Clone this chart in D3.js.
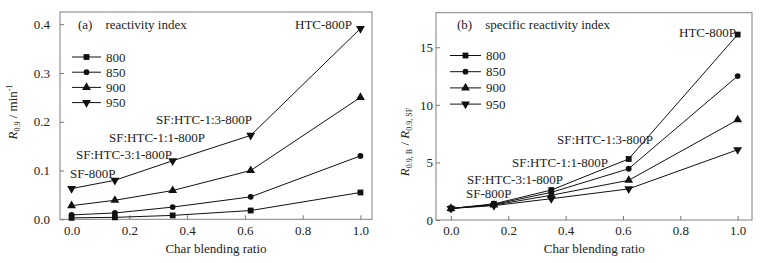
<!DOCTYPE html>
<html>
<head>
<meta charset="utf-8">
<script src="https://cdn.jsdelivr.net/npm/d3@7"></script>
<style>
    body { margin: 0; background: #fff; }
    .tick line { stroke: #777; }
</style>
</head>
<body>
<svg id="chart" width="778" height="263"></svg>
<script>
// Char blending ratio (x) shared by both panels
var ratios = [0, 0.15, 0.35, 0.62, 1.0];
var temps = ['800', '850', '900', '950'];

// (a) reactivity index R0.9 / min-1
var react800 = [0.003, 0.004, 0.008, 0.018, 0.055];
var react850 = [0.009, 0.013, 0.025, 0.046, 0.130];
var react900 = [0.028, 0.039, 0.059, 0.100, 0.250];
var react950 = [0.063, 0.080, 0.120, 0.172, 0.391];

// (b) specific reactivity index R0.9,B / R0.9,SF
var spec800 = [1.0, 1.40, 2.60, 5.30, 16.1];
var spec850 = [1.0, 1.35, 2.40, 4.45, 12.5];
var spec900 = [1.0, 1.30, 2.15, 3.45, 8.7];
var spec950 = [1.0, 1.25, 1.85, 2.70, 6.1];

var sampleNames = ['SF-800P', 'SF:HTC-3:1-800P', 'SF:HTC-1:1-800P', 'SF:HTC-1:3-800P', 'HTC-800P'];
var xTicks = [0, 0.2, 0.4, 0.6, 0.8, 1.0];
var yTicksA = [0, 0.1, 0.2, 0.3, 0.4];
var yTicksB = [0, 5, 10, 15];

var FONT = '"Liberation Serif", "Times New Roman", serif';
var svg = d3.select('#chart');
var symbols = [d3.symbolSquare, d3.symbolCircle, d3.symbolTriangle, 'down'];
var symSizes = [34, 26, 34, 34];

function label(sel) {
    return sel.style('font-family', FONT).style('font-size', '13px').style('fill', '#222');
}

function drawMarker(g, i, cx, cy) {
    var s = symbols[i];
    var p = g.append('path')
        .attr('d', d3.symbol().type(s === 'down' ? d3.symbolTriangle : s).size(symSizes[i])())
        .attr('fill', '#111');
    if (s === 'down') {
        p.attr('transform', 'translate(' + cx + ',' + cy + ') rotate(180)');
    } else {
        p.attr('transform', 'translate(' + cx + ',' + cy + ')');
    }
}

function drawPanel(opt) {
    var x = d3.scaleLinear().domain(opt.xDomain).range([opt.left, opt.right]);
    var y = d3.scaleLinear().domain(opt.yDomain).range([opt.bottom, opt.top]);
    var g = svg.append('g');

    // frame
    g.append('rect')
        .attr('x', opt.left).attr('y', opt.top)
        .attr('width', opt.right - opt.left).attr('height', opt.bottom - opt.top)
        .attr('fill', 'none').attr('stroke', '#808080').attr('stroke-width', 1);

    var xAxis = d3.axisBottom(x).tickValues(xTicks).tickFormat(d3.format('.1f'))
        .tickSizeInner(-4).tickSizeOuter(0).tickPadding(6);
    g.append('g')
        .attr('transform', 'translate(0,' + opt.bottom + ')')
        .call(xAxis)
        .call(a => a.select('.domain').remove())
        .selectAll('text').call(label);

    var yAxis = d3.axisLeft(y).tickValues(opt.yTicks).tickFormat(opt.yFormat)
        .tickSizeInner(-4).tickSizeOuter(0).tickPadding(opt.yPad);
    g.append('g')
        .attr('transform', 'translate(' + opt.left + ',0)')
        .call(yAxis)
        .call(a => a.select('.domain').remove())
        .selectAll('text').call(label);

    // series lines and markers
    var line = d3.line().x((d, i) => x(ratios[i])).y(d => y(d));
    opt.series.forEach(function(vals, si) {
        g.append('path').datum(vals)
            .attr('d', line)
            .attr('fill', 'none').attr('stroke', '#111').attr('stroke-width', 1);
        vals.forEach(function(v, i) {
            drawMarker(g, si, x(ratios[i]), y(v));
        });
    });

    // legend
    temps.forEach(function(t, i) {
        var ly = opt.legY + i * opt.legStep;
        g.append('line')
            .attr('x1', opt.legX0).attr('x2', opt.legX1)
            .attr('y1', ly).attr('y2', ly)
            .attr('stroke', '#111').attr('stroke-width', 1);
        drawMarker(g, i, (opt.legX0 + opt.legX1) / 2, ly);
        g.append('text')
            .attr('x', opt.legX1 + 5).attr('y', ly)
            .attr('dy', '0.35em')
            .call(label)
            .text(t);
    });

    // panel title
    g.append('text')
        .attr('x', opt.titleX).attr('y', 24).attr('dy', '0.35em')
        .attr('xml:space', 'preserve')
        .call(label)
        .text(opt.title);

    // sample annotations
    sampleNames.forEach(function(name, i) {
        var a = opt.notes[i];
        g.append('text')
            .attr('x', a[0]).attr('y', a[1]).attr('dy', '0.35em')
            .call(label)
            .text(name);
    });

    // x title
    g.append('text')
        .attr('x', (x(0) + x(1)) / 2).attr('y', 248).attr('dy', '0.35em')
        .attr('text-anchor', 'middle')
        .call(label)
        .text('Char blending ratio');

    return g;
}

drawPanel({
    left: 60, right: 372, top: 12, bottom: 219.3,
    xDomain: [-0.04, 1.04], yDomain: [0, 0.425],
    yTicks: yTicksA, yFormat: d3.format('.1f'), yPad: 10,
    series: [react800, react850, react900, react950],
    legX0: 72, legX1: 101, legY: 57, legStep: 15.2,
    titleX: 78, title: '(a)    reactivity index',
    notes: [[70, 173], [76, 154], [109, 137], [156, 119], [295, 24]]
});

drawPanel({
    left: 436, right: 752, top: 12.7, bottom: 220,
    xDomain: [-0.052, 1.05], yDomain: [0, 18],
    yTicks: yTicksB, yFormat: d3.format('d'), yPad: 3,
    series: [spec800, spec850, spec900, spec950],
    legX0: 450, legX1: 481, legY: 55.5, legStep: 16.2,
    titleX: 457, title: '(b)    specific reactivity index',
    notes: [[466, 193.5], [467, 179.5], [512, 162], [557, 139], [679, 32]]
});

// y axis titles
var ta = svg.append('text')
    .attr('transform', 'translate(17,112) rotate(-90)')
    .attr('text-anchor', 'middle')
    .call(label);
ta.append('tspan').style('font-style', 'italic').text('R');
ta.append('tspan').attr('dy', 3).style('font-size', '8px').text('0.9');
ta.append('tspan').attr('dy', -3).text(' / min');
ta.append('tspan').attr('dy', -5).style('font-size', '8px').text('-1');

var tb = svg.append('text')
    .attr('transform', 'translate(409,142) rotate(-90)')
    .attr('text-anchor', 'middle')
    .call(label);
tb.append('tspan').style('font-style', 'italic').text('R');
tb.append('tspan').attr('dy', 3).style('font-size', '8px').text('0.9, B');
tb.append('tspan').attr('dy', -3).text(' / ');
tb.append('tspan').style('font-style', 'italic').text('R');
tb.append('tspan').attr('dy', 3).style('font-size', '8px').text('0.9, SF');
</script>
</body>
</html>
